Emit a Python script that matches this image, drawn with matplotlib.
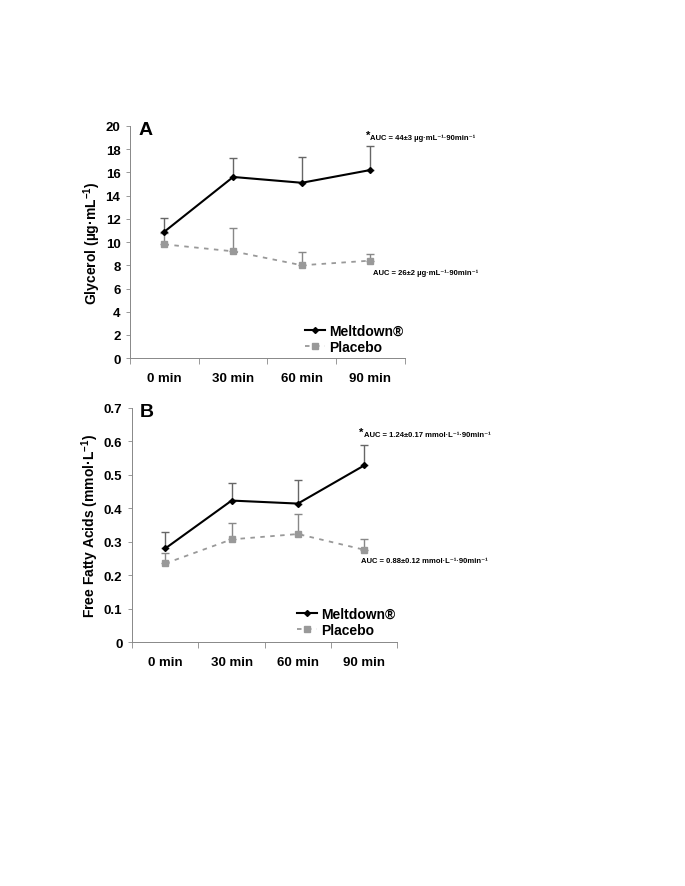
import numpy as np
import matplotlib
matplotlib.use('Agg')
import matplotlib.pyplot as plt

plt.rcParams['font.family'] = ['Liberation Sans', 'DejaVu Sans']
plt.rcParams['font.weight'] = 'bold'
plt.rcParams['mathtext.fontset'] = 'custom'
plt.rcParams['mathtext.rm'] = 'Liberation Sans:bold'
plt.rcParams['mathtext.bf'] = 'Liberation Sans:bold'
plt.rcParams['mathtext.default'] = 'bf'

times = ['0 min', '30 min', '60 min', '90 min']

# Panel A - glycerol (ug/mL)
gly_melt = [10.9, 15.6, 15.1, 16.2]
gly_melt_err = [1.2, 1.6, 2.2, 2.1]
gly_plac = [9.8, 9.2, 8.0, 8.4]
gly_plac_err = [1.0, 2.0, 1.1, 0.6]

# Panel B - free fatty acids (mmol/L)
ffa_melt = [0.28, 0.423, 0.414, 0.528]
ffa_melt_err = [0.05, 0.052, 0.069, 0.062]
ffa_plac = [0.235, 0.307, 0.323, 0.276]
ffa_plac_err = [0.03, 0.05, 0.059, 0.032]

fig = plt.figure(figsize=(6.85, 8.87), dpi=100)
axA = fig.add_axes([0.19, 0.595, 0.401, 0.262])
axB = fig.add_axes([0.193, 0.275, 0.387, 0.264])


def draw(ax, melt, melt_err, plac, plac_err, ymax, ystep, ylabel, yfmt, leg_y):
    x = np.arange(len(times))
    ax.errorbar(x, plac, yerr=[np.zeros(len(x)), plac_err], fmt='none',
                ecolor='#888888', elinewidth=1, capsize=3, capthick=1, zorder=1)
    ax.errorbar(x, melt, yerr=[np.zeros(len(x)), melt_err], fmt='none',
                ecolor='#666666', elinewidth=1, capsize=3, capthick=1, zorder=1)
    ax.plot(x, plac, color='#999999', linestyle=(0, (2.5, 3)), linewidth=1.3,
            marker='s', markersize=5, label='Placebo', zorder=2)
    ax.plot(x, melt, color='black', linestyle='-', linewidth=1.5,
            marker='D', markersize=3, label='Meltdown®', zorder=3)
    ax.set_xlim(-0.5, len(times) - 0.5)
    ax.set_ylim(0, ymax)
    ax.set_yticks(np.arange(0, ymax + ystep / 2, ystep))
    ax.set_yticklabels([yfmt(v) for v in np.arange(0, ymax + ystep / 2, ystep)],
                       fontsize=9.5, fontweight='bold')
    ax.set_xticks(x)
    ax.set_xticklabels(times, fontsize=9.5, fontweight='bold')
    ax.set_xticks(np.arange(-0.5, len(times)), minor=True)
    ax.tick_params(axis='x', which='major', length=0, pad=10)
    ax.tick_params(axis='x', which='minor', length=4, width=0.6, color='#888888')
    ax.tick_params(axis='y', length=3, width=0.6, color='#888888', pad=4)
    for s in ['top', 'right']:
        ax.spines[s].set_visible(False)
    for s in ['left', 'bottom']:
        ax.spines[s].set_color('#888888')
        ax.spines[s].set_linewidth(0.7)
    ax.set_ylabel(ylabel, fontsize=10, fontweight='bold', labelpad=2)
    h, l = ax.get_legend_handles_labels()
    ax.legend(h[::-1], l[::-1], loc='lower right', bbox_to_anchor=(1.04, leg_y),
              frameon=False, handlelength=1.45, handletextpad=0.3,
              labelspacing=0.15, prop={'weight': 'bold', 'size': 10})


draw(axA, gly_melt, gly_melt_err, gly_plac, gly_plac_err, 20, 2,
     r'Glycerol (µg·mL$^{-1}$)', lambda v: '%d' % v, -0.035)
draw(axB, ffa_melt, ffa_melt_err, ffa_plac, ffa_plac_err, 0.7, 0.1,
     r'Free Fatty Acids (mmol·L$^{-1}$)', lambda v: '0' if v == 0 else '%.1f' % v, -0.03)

axA.text(0.03, 1.02, 'A', transform=axA.transAxes, fontsize=14, fontweight='bold',
         ha='left', va='top')
axB.text(0.03, 1.02, 'B', transform=axB.transAxes, fontsize=14, fontweight='bold',
         ha='left', va='top')

small = 5.5
fam = ['Liberation Sans', 'DejaVu Sans']


def auc(ax, x, y, txt, star):
    ax.text(x, y, txt, fontsize=small, fontweight='bold', ha='left', va='center',
            family=fam)
    if star:
        ax.annotate('*', (x, y), xytext=(0, 2), textcoords='offset points',
                    fontsize=8, fontweight='bold', ha='right', va='center')


auc(axA, 3.0, 19.0, 'AUC = 44±3 µg·mL⁻¹·90min⁻¹', True)
auc(axA, 3.04, 7.4, 'AUC = 26±2 µg·mL⁻¹·90min⁻¹', False)
auc(axB, 2.99, 0.62, 'AUC = 1.24±0.17 mmol·L⁻¹·90min⁻¹', True)
auc(axB, 2.95, 0.245, 'AUC = 0.88±0.12 mmol·L⁻¹·90min⁻¹', False)

fig.savefig('out.png', dpi=100)
